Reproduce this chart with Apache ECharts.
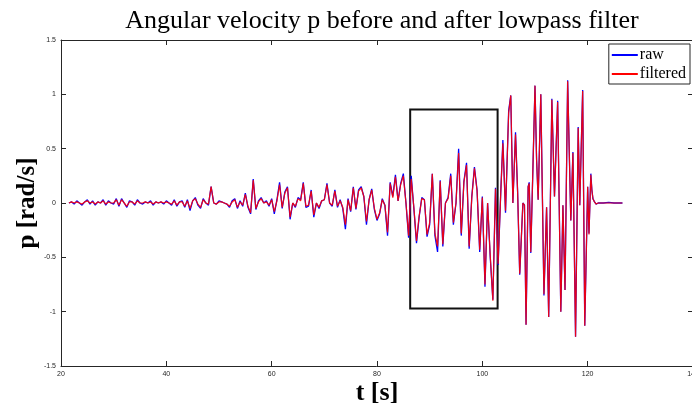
<!DOCTYPE html>
<html>
<head>
<meta charset="utf-8">
<script src="https://cdn.jsdelivr.net/npm/echarts@6/dist/echarts.min.js"></script>
<style>
html, body { margin: 0; padding: 0; background: #fff; }
#chart { width: 692px; height: 408px; }
</style>
</head>
<body>
<div id="chart"></div>
<script>
// regular part: one sample every 0.5 s from 21.5 s up to 103 s
var tStart = 21.5, tStep = 0.5;

var rawU = [
    // 21.5 .. 43
    0, 0.01, -0.01, 0.02, 0, -0.02, 0.01, 0.03, -0.01, 0.02,
    -0.02, 0.01, 0, 0.03, -0.02, 0.02, 0, -0.01, 0.04, -0.03,
    0.04, 0, -0.04, 0.02, 0.01, -0.02, 0.03, 0, -0.01, 0.01,
    0, 0.02, -0.02, 0.01, 0, 0.01, -0.01, 0.02, 0, -0.02,
    0.03, -0.03, 0.01, 0.02,
    // 43.5 .. 65
    -0.04, 0.03, -0.07, 0.02, 0.05, -0.02, -0.05, 0.04, 0, -0.02,
    0.15, 0, -0.01, 0.02, 0.01, 0, -0.01, -0.04, 0.02, 0.04,
    -0.05, 0.02, -0.03, 0.09, -0.04, -0.1, 0.22, -0.06, 0.02, 0.05,
    0, 0.02, -0.03, 0.04, -0.1, 0.03, 0.19, -0.05, 0.1, 0.15,
    -0.15, 0, -0.04, 0.05,
    // 65.5 .. 85.5
    0.03, 0.19, -0.04, -0.03, 0.12, -0.13, 0, -0.05, 0.02, 0.03,
    0.18, 0, -0.03, 0.12, -0.04, 0.03, -0.05, -0.24, 0.04, -0.08,
    0.15, -0.06, 0.12, 0.15, 0.06, -0.2, 0.03, 0.13, -0.06, -0.16,
    -0.1, 0.04, -0.02, -0.3, 0.19, 0.06, 0.26, 0.02, 0.18, 0.27,
    0,
    // 86 .. 103
    -0.32, 0.25, -0.05, -0.37, -0.13, 0.05, 0.03, -0.31, -0.2, 0.27,
    -0.3, -0.45, 0.21, -0.4, 0, 0.05, 0.27, -0.2, 0, 0.5,
    -0.3, 0.2, 0.37, -0.42, 0.06, 0.33, 0.12, -0.45, 0.06, -0.77,
    0, -0.5, -0.89, 0.14, -0.57
];

var filtU = [
    0, 0.01, 0, 0.01, 0, -0.01, 0.01, 0.02, 0, 0.01,
    -0.01, 0.01, 0, 0.02, -0.01, 0.01, 0, 0, 0.03, -0.02,
    0.03, 0, -0.03, 0.01, 0.01, -0.01, 0.02, 0, 0, 0.01,
    0, 0.01, -0.01, 0.01, 0, 0.01, 0, 0.01, 0, -0.01,
    0.02, -0.02, 0.01, 0.01,
    -0.03, 0.02, -0.05, 0.02, 0.04, -0.01, -0.04, 0.03, 0, -0.01,
    0.15, 0, -0.01, 0.01, 0.01, 0, -0.01, -0.03, 0.01, 0.03,
    -0.04, 0.01, -0.02, 0.08, -0.03, -0.09, 0.21, -0.05, 0.01, 0.04,
    0, 0.01, -0.02, 0.03, -0.08, 0.02, 0.17, -0.04, 0.09, 0.14,
    -0.13, 0, -0.03, 0.04,
    0.02, 0.18, -0.03, -0.02, 0.11, -0.11, 0, -0.04, 0.02, 0.03,
    0.17, 0, -0.02, 0.11, -0.03, 0.02, -0.04, -0.2, 0.03, -0.07,
    0.14, -0.05, 0.11, 0.14, 0.06, -0.17, 0.03, 0.12, -0.05, -0.15,
    -0.09, 0.03, -0.02, -0.27, 0.18, 0.05, 0.24, 0.02, 0.17, 0.25,
    0,
    -0.3, 0.22, -0.04, -0.35, -0.12, 0.04, 0.03, -0.29, -0.18, 0.27,
    -0.28, -0.4, 0.2, -0.38, 0, 0.04, 0.25, -0.18, 0, 0.46,
    -0.28, 0.19, 0.35, -0.4, 0.05, 0.32, 0.11, -0.43, 0.05, -0.75,
    0, -0.48, -0.9, 0.13, -0.56
];

// large oscillations: peaks, troughs and shoulders read one by one
var tPeaks = [103.5, 103.9, 104.4, 105.0, 105.4, 105.8, 106.3, 106.7, 107.1, 107.7,
    108.0, 108.3, 108.7, 108.9, 109.2, 110.0, 110.3, 110.6, 111.1, 111.7,
    112.2, 112.6, 113.2, 113.7, 114.3, 114.9, 115.3, 115.7, 116.2, 116.8,
    117.2, 117.7, 118.2, 118.5, 119.05, 119.45, 120.0, 120.25, 120.6, 120.8,
    121.0, 121.3, 121.6, 122.0, 123.0, 124.0, 125.0, 126.0, 126.6];
var rawPeaks = [0.1, 0.58, -0.09, 0.85, 0.99, 0.0, 0.65, 0.1, -0.66, 0.0,
    -0.02, -1.12, 0.15, 0.19, -0.46, 1.08, 0.4, 0.03, 1.0, -0.85,
    -0.04, -1.05, 0.96, 0.06, 0.94, -1.0, -0.02, -0.8, 1.13, -0.16,
    0.47, -1.23, 0.7, -0.02, 1.04, -1.13, 0.15, -0.28, 0.27, 0.12,
    0.04, 0.01, -0.01, 0, 0, 0.005, 0, 0, 0];
var filtPeaks = [0.1, 0.55, -0.07, 0.83, 0.99, 0.0, 0.63, 0.1, -0.65, 0.0,
    -0.02, -1.12, 0.15, 0.18, -0.45, 1.08, 0.4, 0.03, 1.0, -0.84,
    -0.04, -1.05, 0.95, 0.06, 0.93, -1.0, -0.02, -0.8, 1.12, -0.16,
    0.46, -1.23, 0.69, -0.02, 1.03, -1.13, 0.15, -0.29, 0.26, 0.12,
    0.04, 0.01, -0.01, 0, 0, 0, 0, 0, 0];

// zoom box drawn on the plot
var boxT = [86.3, 102.9];
var boxP = [-0.97, 0.86];

function pairs(u, peaks) {
    var out = [];
    for (var i = 0; i < u.length; i++) out.push([tStart + i * tStep, u[i]]);
    for (var j = 0; j < tPeaks.length; j++) out.push([tPeaks[j], peaks[j]]);
    return out;
}

var axisCol = '#262626';
var serif = "'Liberation Serif', 'DejaVu Serif', serif";
var tick = { inside: true, length: 5, lineStyle: { color: axisCol } };
var line = { onZero: false, lineStyle: { color: axisCol, width: 1 } };

var chart = echarts.init(document.getElementById('chart'));
var option = {
    animation: false,
    title: {
        text: 'Angular velocity p before and after lowpass filter',
        left: 377,
        textAlign: 'center',
        top: 3,
        textStyle: { fontFamily: serif, fontSize: 26, fontWeight: 'normal', color: '#000' }
    },
    legend: {
        data: ['raw', 'filtered'],
        orient: 'vertical',
        right: 2,
        top: 44,
        itemWidth: 26,
        itemHeight: 2,
        itemGap: 3,
        icon: 'rect',
        padding: [3, 4, 2, 3],
        borderColor: axisCol,
        borderWidth: 1,
        backgroundColor: '#fff',
        textStyle: { fontFamily: serif, fontSize: 16, color: '#000', padding: [0, 0, 0, -3] }
    },
    grid: { left: 61, right: -1, top: 40, bottom: 42, outerBoundsMode: 'none', containLabel: false },
    xAxis: [{
        type: 'value',
        min: 20, max: 140, interval: 20,
        name: 't [s]',
        nameLocation: 'middle',
        nameGap: 14,
        nameMoveOverlap: false,
        nameTextStyle: { fontFamily: serif, fontSize: 26, fontWeight: 'bold', color: '#000', verticalAlign: 'top' },
        axisLine: line,
        axisTick: tick,
        axisLabel: { fontSize: 7, color: axisCol, margin: 5, fontFamily: 'Liberation Sans' },
        splitLine: { show: false }
    }, {
        type: 'value', position: 'top',
        min: 20, max: 140, interval: 20,
        axisLine: line,
        axisTick: tick,
        axisLabel: { show: false },
        splitLine: { show: false }
    }],
    yAxis: [{
        type: 'value',
        min: -1.5, max: 1.5, interval: 0.5,
        name: 'p [rad/s]',
        nameLocation: 'middle',
        nameRotate: 90,
        nameGap: 21,
        nameMoveOverlap: false,
        nameTextStyle: { fontFamily: serif, fontSize: 25, fontWeight: 'bold', color: '#000' },
        axisLine: { show: true, onZero: false, lineStyle: { color: axisCol, width: 1 } },
        axisTick: { show: true, inside: true, length: 5, lineStyle: { color: axisCol } },
        axisLabel: { fontSize: 7, color: axisCol, margin: 5, fontFamily: 'Liberation Sans' },
        splitLine: { show: false }
    }, {
        type: 'value', position: 'right',
        min: -1.5, max: 1.5, interval: 0.5,
        axisLine: { show: true, onZero: false, lineStyle: { color: axisCol, width: 1 } },
        axisTick: { show: true, inside: true, length: 5, lineStyle: { color: axisCol } },
        axisLabel: { show: false },
        splitLine: { show: false }
    }],
    series: [{
        name: 'raw',
        type: 'line',
        data: pairs(rawU, rawPeaks),
        symbol: 'none',
        color: '#0000ff',
        lineStyle: { color: '#0000ff', width: 1.3 }
    }, {
        name: 'filtered',
        type: 'line',
        data: pairs(filtU, filtPeaks),
        symbol: 'none',
        color: '#ff0000',
        lineStyle: { color: '#ff0000', width: 1.2, opacity: 0.9 },
        markArea: {
            silent: true,
            itemStyle: { color: 'rgba(0,0,0,0)', borderColor: '#111', borderWidth: 2 },
            data: [[{ coord: [boxT[0], boxP[1]] }, { coord: [boxT[1], boxP[0]] }]]
        }
    }]
};
chart.setOption(option);
</script>
</body>
</html>
